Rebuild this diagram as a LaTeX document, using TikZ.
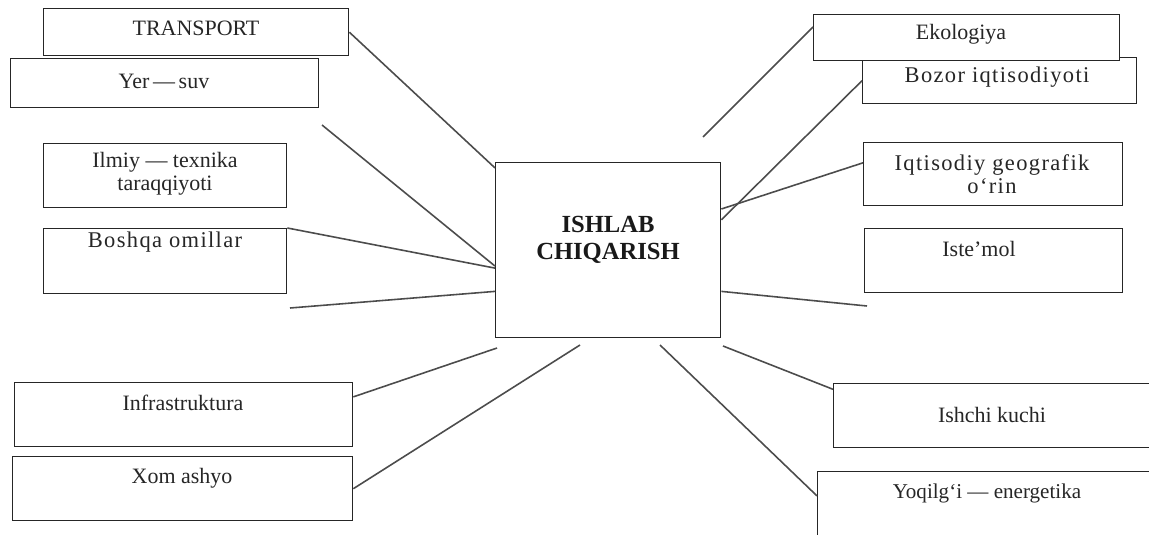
\documentclass[tikz,border=0pt]{standalone}
\usepackage{fontspec}
\setmainfont{Liberation Serif}
\newfontfamily\widefont[LetterSpace=6]{Liberation Serif}
\usetikzlibrary{calc}
\begin{document}
\begin{tikzpicture}[x=0.02cm,y=-0.02cm,
  box/.style={draw=black!85, line width=0.8pt, fill=white, inner sep=0pt, anchor=north west},
  txt/.style={font=\fontsize{12.5}{13}\selectfont, text=black!85, align=center, inner sep=0pt},
  wtxt/.style={txt, font=\widefont\fontsize{12.8}{13}\selectfont},
  ctxt/.style={font=\fontsize{14}{15}\selectfont\bfseries, text=black!90, align=center, inner sep=0pt},
  link/.style={draw=black!70, line width=0.9pt}]
\useasboundingbox (0,0) rectangle (1149,534);
\clip (0,0) rectangle (1149,534);
\fill[white] (0,0) rectangle (1149,534);
% left boxes
\node[box, minimum width=6.10cm, minimum height=0.94cm] (tr)  at (43,8)   {};
\node[box, minimum width=6.16cm, minimum height=0.98cm] (yer) at (10,58)  {};
\node[box, minimum width=4.86cm, minimum height=1.28cm] (ilm) at (43,143) {};
\node[box, minimum width=4.86cm, minimum height=1.30cm] (bos) at (43,228) {};
\node[box, minimum width=6.76cm, minimum height=1.28cm] (inf) at (14,382) {};
\node[box, minimum width=6.80cm, minimum height=1.28cm] (xom) at (12,456) {};
% centre
\node[box, minimum width=4.50cm, minimum height=3.50cm] (cen) at (495,162) {};
% right boxes
\node[box, minimum width=5.48cm, minimum height=0.92cm] (boz) at (862,57)  {};
\node[box, minimum width=6.12cm, minimum height=0.92cm] (eko) at (813,14)  {};
\node[box, minimum width=5.18cm, minimum height=1.26cm] (iqt) at (863,142) {};
\node[box, minimum width=5.16cm, minimum height=1.28cm] (ist) at (864,228) {};
\node[box, minimum width=6.64cm, minimum height=1.28cm] (ish) at (833,383) {};
\node[box, minimum width=6.96cm, minimum height=1.58cm] (yoq) at (817,471) {};
% texts
\node[txt] (trt)  at (196,28)  {TRANSPORT};
\node[txt] (yert) at (164,81)  {Yer\,—\,suv};
\node[txt] (ilmt) at (165,174) {Ilmiy — texnika\\taraqqiyoti};
\node[wtxt] (bost) at (165,242) {Boshqa omillar};
\node[txt] (inft) at (183,403) {Infrastruktura};
\node[txt] (xomt) at (182,478) {Xom ashyo};
\node[ctxt] (cent) at (608,240) {ISHLAB\\CHIQARISH};
\node[txt] (ekot) at (961,34)  {Ekologiya};
\node[wtxt] (bozt) at (997,77)  {Bozor iqtisodiyoti};
\node[wtxt] (iqtt) at (992,174) {Iqtisodiy geografik\\o‘rin};
\node[txt] (istt) at (979,249) {Iste’mol};
\node[txt] (isht) at (992,415) {Ishchi kuchi};
\node[txt, font=\fontsize{12}{13}\selectfont] (yoqt) at (987,493) {Yoqilg‘i — energetika};
% free ends
\coordinate (yerEnd)   at (322,125);
\coordinate (bosEnd)   at (290,308);
\coordinate (infEnd)   at (497,348);
\coordinate (xomEnd)   at (580,345);
\coordinate (ekoEnd)   at (703,137);
\coordinate (istEnd)   at (867,306);
\coordinate (ishStart) at (723,346);
\coordinate (yoqStart) at (660,345);
% connectors
\draw[link] (tr.east) -- (cen.144);
\draw[link] (yerEnd) -- (cen.188);
\draw[link] (bos.north east) -- (cen.189.5);
\draw[link] (bosEnd) -- (cen.200);
\draw[link] (inf.6) -- (infEnd);
\draw[link] (xom.east) -- (xomEnd);
\draw[link] (eko.176) -- (ekoEnd);
\draw[link] (boz.west) -- (cen.15.6);
\draw[link] (iqt.175) -- (cen.20.2);
\draw[link] (cen.-20.2) -- (istEnd);
\draw[link] (ishStart) -- (ish.171.4);
\draw[link] (yoqStart) -- (yoq.175.9);
\end{tikzpicture}
\end{document}
